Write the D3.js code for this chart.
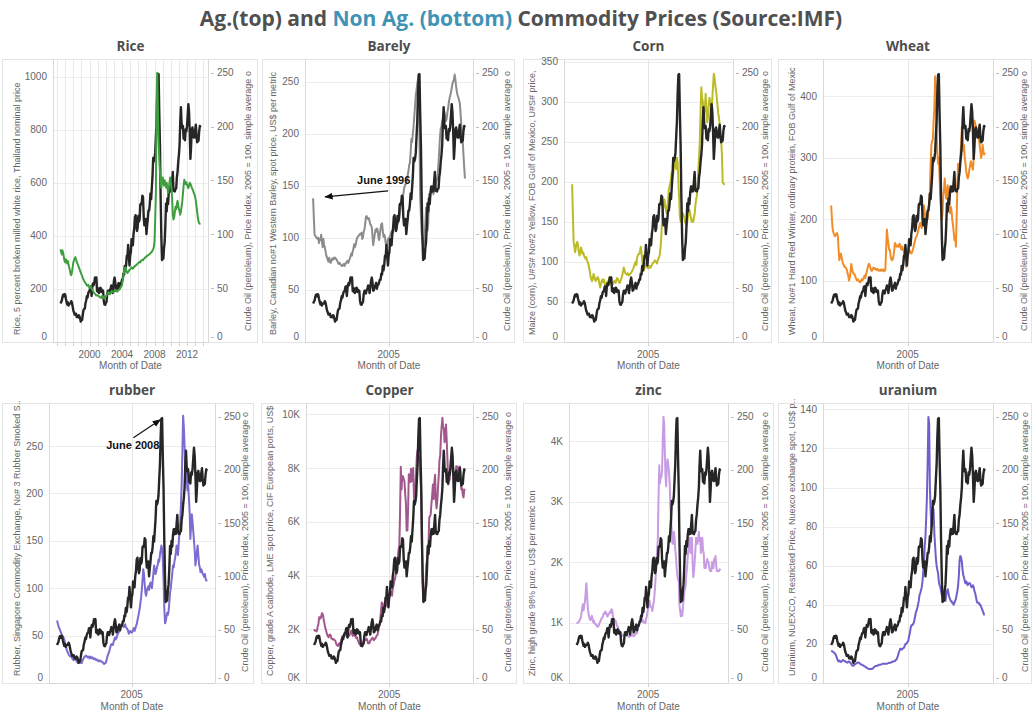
<!DOCTYPE html>
<html>
<head>
<meta charset="utf-8">
<script src="https://cdn.jsdelivr.net/npm/d3@7"></script>
<style>
  body { margin: 0; background: #fff; }
  svg { display: block; }
  text { white-space: pre; }
</style>
</head>
<body>
<svg id="chart" width="1032" height="717"></svg>
<script>
// Monthly observations, June 1996 through September 2013 (208 months)
const firstMonth = new Date(1996, 5, 1);

// Crude Oil (petroleum), price index, 2005 = 100
const crudeOil = [
  35.7, 37.1, 38.6, 42.0, 43.9, 42.4, 44.4,                                   // 1996 Jun-Dec
  44.0, 40.1, 37.3, 34.9, 36.7, 33.9, 35.2, 35.6, 35.8, 37.9, 36.4, 32.8,     // 1997
  29.2, 27.4, 25.5, 26.1, 26.2, 23.2, 23.6, 22.9, 24.9, 24.2, 21.7, 18.9,     // 1998
  21.4, 20.6, 25.3, 29.6, 30.6, 30.9, 36.0, 38.6, 42.4, 41.2, 45.0, 46.9,     // 1999
  47.2, 51.2, 51.7, 42.7, 50.6, 54.4, 52.7, 55.3, 60.0, 58.3, 60.0, 47.4,     // 2000
  46.7, 49.7, 45.5, 46.7, 50.4, 49.7, 46.5, 48.0, 47.6, 38.1, 34.9, 34.5,     // 2001
  36.2, 37.3, 44.2, 47.6, 47.6, 45.0, 48.0, 49.3, 52.5, 51.4, 45.5, 50.8,     // 2002
  56.8, 59.8, 55.5, 47.6, 48.2, 51.4, 53.0, 54.9, 49.5, 53.2, 53.4, 55.3,     // 2003
  58.1, 57.9, 63.4, 62.6, 70.5, 66.5, 71.6, 80.0, 79.5, 90.2, 79.7, 71.0,     // 2004
  80.4, 83.6, 95.4, 94.8, 89.8, 100.5, 105.3, 116.0, 117.7, 109.7, 103.1, 105.9, // 2005
  117.1, 111.9, 114.2, 127.5, 128.6, 128.0, 135.9, 134.6, 116.0, 108.3, 108.5, 114.2, // 2006
  100.1, 108.0, 113.6, 122.0, 122.0, 127.8, 137.8, 132.7, 143.6, 154.1, 170.8, 167.6, // 2007
  170.2, 175.8, 190.4, 204.5, 230.2, 248.0, 248.7, 212.2, 182.0, 134.2, 98.4, 76.1,   // 2008
  77.4, 77.4, 87.0, 92.8, 108.0, 128.6, 121.1, 133.3, 128.0, 138.9, 144.3, 139.6,     // 2009
  144.5, 140.0, 148.6, 157.8, 141.7, 140.0, 139.8, 142.1, 142.6, 153.1, 158.0, 167.2, // 2010
  173.8, 183.5, 203.7, 218.0, 202.6, 198.5, 200.7, 188.8, 188.9, 187.3, 197.6, 195.5, // 2011
  200.7, 211.2, 220.8, 213.1, 194.9, 170.0, 181.4, 197.4, 199.2, 193.8, 189.7, 189.7, // 2012
  197.0, 201.7, 192.1, 185.4, 186.3, 186.9, 195.9, 200.6, 199.3                        // 2013 Jan-Sep
];

// Rice, 5% broken milled white, Thailand
const rice = [
  350, 340, 330, 345, 335, 320, 305,
  300, 312, 302, 296, 305, 290, 280, 268, 255, 252, 265, 282,
  300, 308, 315, 320, 312, 302, 296, 290, 282, 276, 268, 262,
  255, 250, 242, 236, 230, 226, 222, 218, 214, 212, 216, 208,
  204, 206, 210, 202, 196, 192, 188, 184, 182, 178, 175, 176,
  176, 174, 172, 170, 168, 166, 170, 174, 170, 166, 164, 168,
  172, 176, 180, 184, 188, 184, 180, 184, 188, 192, 190, 188,
  188, 192, 194, 196, 192, 190, 194, 196, 198, 202, 206, 210,
  216, 232, 250, 266, 276, 282, 272, 264, 260, 264, 268, 272,
  274, 278, 282, 280, 276, 280, 284, 286, 288, 290, 292, 296,
  298, 300, 302, 300, 306, 308, 310, 308, 312, 315, 318, 320,
  322, 325, 326, 328, 330, 332, 335, 338, 340, 345, 350, 358,
  380, 470, 560, 900, 1015, 880, 760, 690, 640, 600, 580, 610,
  620, 602, 590, 610, 596, 582, 600, 580, 562, 576, 600, 620,
  600, 580, 540, 482, 462, 470, 490, 510, 500, 520, 532, 512,
  502, 490, 480, 492, 510, 530, 560, 590, 612, 600, 596, 602,
  592, 586, 580, 590, 600, 596, 590, 582, 576, 570, 562, 556,
  546, 532, 512, 490, 470, 455, 448, 446, 447
];

// Barley, Canadian no.1 Western
const barley = [
  138, 120, 103, 102, 101, 100, 99,
  100, 95, 99, 98, 103, 97, 91, 99, 93, 91, 87, 83,
  81, 79, 77, 81, 78, 76, 78, 80, 79, 81, 80, 81,
  80, 79, 78, 76, 75, 76, 75, 74, 73, 73, 74, 75,
  73, 75, 76, 77, 78, 76, 78, 80, 82, 85, 83, 87,
  90, 94, 91, 93, 97, 100, 101, 102, 103, 104, 103, 105,
  99, 101, 106, 108, 113, 120, 121, 119, 118, 119, 116, 113,
  112, 110, 102, 93, 98, 103, 108, 106, 109, 108, 101, 98,
  103, 109, 113, 114, 107, 101, 103, 101, 95, 91, 93, 98,
  100, 100, 102, 104, 106, 107, 105, 108, 110, 112, 113, 114,
  113, 115, 117, 122, 127, 133, 132, 137, 142, 147, 150, 152,
  152, 157, 160, 164, 170, 172, 182, 195, 192, 200, 207, 217,
  227, 237, 242, 248, 252, 257, 200, 140, 120, 105, 98, 93,
  93, 102, 112, 129, 120, 107, 114, 142, 137, 142, 144, 146,
  146, 142, 145, 148, 152, 154, 157, 162, 172, 184, 197, 205,
  207, 212, 214, 217, 221, 217, 212, 214, 220, 224, 230, 234,
  237, 240, 244, 248, 250, 252, 257, 252, 245, 240, 237, 235,
  232, 229, 220, 209, 200, 193, 180, 168, 157
];

// Maize (corn), U.S. No.2 Yellow, FOB Gulf of Mexico
const corn = [
  197, 160, 125, 119, 112, 118, 123,
  125, 120, 112, 108, 112, 118, 115, 110, 112, 108, 106, 104,
  106, 102, 100, 97, 93, 88, 81, 78, 76, 80, 85, 82,
  78, 76, 78, 80, 81, 78, 72, 68, 72, 76, 78, 75,
  78, 74, 70, 72, 74, 76, 76, 78, 81, 78, 72, 74,
  72, 74, 76, 75, 74, 78, 80, 78, 76, 74, 74, 78,
  80, 84, 88, 93, 90, 86, 85, 84, 86, 85, 83, 85,
  85, 87, 88, 90, 92, 95, 98, 100, 96, 105, 108, 110,
  110, 114, 119, 112, 102, 95, 89, 92, 96, 98, 95, 93,
  92, 93, 95, 93, 94, 96, 98, 99, 100, 102, 101, 100,
  98, 102, 104, 106, 110, 120, 135, 153, 165, 170, 178, 172,
  165, 161, 168, 175, 190, 195, 198, 205, 212, 205, 210, 218,
  225, 222, 216, 230, 225, 200, 180, 157, 150, 155, 160, 161,
  158, 155, 150, 148, 146, 150, 156, 162, 165, 160, 155, 150,
  153, 150, 155, 160, 170, 178, 182, 195, 215, 230, 250, 285,
  318, 305, 301, 290, 284, 295, 310, 290, 274, 280, 295, 305,
  300, 295, 290, 305, 320, 335, 330, 320, 314, 305, 295, 285,
  280, 270, 255, 250, 235, 199, 198, 197, 197
];

// Wheat, No.1 Hard Red Winter, FOB Gulf of Mexico
const wheat = [
  222, 200, 183, 178, 175, 172, 174,
  176, 177, 172, 150, 133, 140, 144, 138, 132, 127, 125, 122,
  122, 120, 118, 112, 108, 100, 104, 112, 127, 120, 115, 111,
  111, 108, 105, 102, 100, 102, 100, 98, 97, 99, 102, 100,
  102, 105, 108, 104, 110, 115, 120, 125, 127, 124, 120, 116,
  116, 119, 121, 119, 120, 118, 117, 119, 118, 116, 117, 116,
  118, 116, 117, 118, 115, 116, 118, 150, 183, 170, 160, 150,
  150, 140, 135, 133, 135, 140, 150, 161, 158, 155, 157, 155,
  155, 160, 158, 152, 150, 155, 150, 148, 140, 133, 122, 130,
  140, 155, 150, 148, 145, 144, 146, 150, 155, 160, 165, 170,
  172, 175, 180, 185, 190, 194, 190, 185, 200, 215, 222, 210,
  199, 205, 210, 200, 215, 225, 245, 288, 320, 327, 330, 360,
  380, 432, 415, 343, 310, 290, 300, 270, 233, 215, 199, 210,
  240, 250, 266, 245, 233, 240, 255, 240, 225, 210, 220, 215,
  200, 190, 180, 166, 172, 155, 200, 255, 290, 285, 280, 300,
  320, 349, 330, 310, 320, 299, 290, 277, 270, 266, 270, 280,
  285, 294, 290, 285, 280, 300, 360, 355, 350, 345, 340, 338,
  330, 320, 310, 299, 305, 321, 310, 305, 308
];

// Rubber, Singapore Commodity Exchange, No.3 Rubber Smoked Sheets
const rubber = [
  66, 63, 60, 58, 56, 54, 52,
  50, 49, 48, 46, 43, 40, 36, 34, 32, 30, 29, 28,
  29, 28, 26, 25, 24, 25, 26, 24, 23, 22, 21, 22,
  23, 22, 21, 21, 23, 25, 26, 28, 28, 29, 28, 27,
  28, 27, 26, 28, 27, 26, 27, 26, 25, 26, 25, 24,
  25, 24, 23, 23, 24, 23, 23, 22, 22, 21, 20, 21,
  21, 23, 26, 29, 31, 33, 36, 39, 41, 40, 40, 43,
  46, 48, 46, 47, 50, 52, 53, 55, 56, 58, 62, 60,
  61, 59, 60, 62, 59, 58, 57, 55, 52, 53, 55, 54,
  53, 54, 56, 58, 55, 57, 60, 62, 66, 70, 74, 78,
  84, 90, 98, 108, 120, 115, 105, 95, 92, 98, 100, 102,
  98, 104, 106, 102, 100, 108, 115, 124, 120, 115, 118, 122,
  125, 130, 128, 135, 140, 145, 142, 130, 109, 80, 63, 65,
  70, 74, 72, 76, 85, 95, 100, 108, 115, 124, 122, 128,
  132, 138, 145, 140, 135, 148, 160, 170, 188, 210, 245, 282,
  270, 250, 224, 230, 215, 203, 210, 195, 180, 152, 165, 178,
  170, 160, 150, 140, 124, 130, 138, 145, 135, 125, 122, 117,
  120, 118, 115, 114, 112, 115, 110, 108, 109
];

// Copper, grade A cathode, LME spot
const copper = [
  2000, 1950, 1950, 1920, 1950, 2100, 2200,
  2450, 2450, 2400, 2500, 2600, 2550, 2400, 2250, 2100, 2000, 1900, 1800,
  1740, 1700, 1780, 1800, 1760, 1650, 1650, 1620, 1630, 1600, 1580, 1500,
  1420, 1400, 1380, 1450, 1480, 1420, 1580, 1650, 1750, 1730, 1750, 1770,
  1850, 1800, 1730, 1700, 1800, 1750, 1800, 1850, 1950, 1880, 1750, 1850,
  1780, 1780, 1720, 1670, 1700, 1600, 1530, 1460, 1430, 1380, 1420, 1480,
  1500, 1560, 1600, 1600, 1600, 1650, 1600, 1480, 1480, 1480, 1580, 1600,
  1650, 1680, 1660, 1590, 1650, 1650, 1710, 1760, 1790, 1920, 2060, 2200,
  2420, 2760, 3000, 2950, 2740, 2690, 2800, 2850, 2860, 3010, 3100, 3140,
  3170, 3250, 3380, 3390, 3250, 3530, 3620, 3800, 3860, 4060, 4270, 4580,
  4730, 4980, 5100, 6380, 8050, 7200, 7700, 7690, 7600, 7500, 7030, 6680,
  5670, 5690, 6450, 7770, 7650, 7480, 7970, 7510, 7650, 8000, 6970, 6640,
  7060, 7890, 8440, 8680, 8380, 8260, 8410, 7630, 6990, 4890, 3720, 3070,
  3220, 3310, 3750, 4410, 4570, 5010, 5200, 6170, 6200, 6290, 6680, 6980,
  7390, 6850, 7460, 7750, 6840, 6500, 6740, 7280, 7710, 8290, 8470, 9150,
  9550, 9870, 9530, 9480, 8960, 9060, 9620, 9000, 8300, 7390, 7580, 7560,
  8040, 8440, 8470, 8250, 7950, 7420, 7590, 7510, 8070, 8060, 7710, 8000,
  8050, 8060, 7650, 7200, 7250, 7000, 6900, 7200, 7160
];

// Zinc, high grade 98% pure
const zinc = [
  1000, 990, 1000, 1010, 1030, 1060, 1080,
  1160, 1250, 1300, 1200, 1290, 1350, 1500, 1650, 1450, 1250, 1150, 1090,
  1050, 1040, 1080, 1110, 1050, 1000, 1030, 980, 980, 960, 940, 950,
  930, 960, 1000, 1010, 1050, 1070, 1080, 1110, 1150, 1140, 1180, 1170,
  1150, 1100, 1110, 1140, 1150, 1180, 1160, 1220, 1210, 1130, 1040, 1060,
  1030, 1030, 1000, 940, 940, 900, 860, 830, 820, 800, 780, 780,
  790, 800, 840, 820, 790, 790, 800, 780, 760, 760, 780, 780,
  780, 790, 800, 770, 780, 800, 820, 830, 820, 900, 940, 1000,
  1030, 1100, 1100, 1060, 1050, 1000, 1010, 1000, 990, 1060, 1100, 1180,
  1240, 1340, 1360, 1280, 1250, 1250, 1190, 1280, 1330, 1440, 1610, 1800,
  2020, 2200, 2400, 3100, 3600, 3300, 3400, 3400, 3500, 4000, 4400, 4300,
  3800, 3400, 3250, 3600, 3700, 3600, 3500, 3300, 2900, 2700, 2500, 2300,
  2300, 2500, 2400, 2200, 2100, 1900, 1800, 1700, 1700, 1300, 1200, 1100,
  1200, 1110, 1230, 1380, 1480, 1560, 1600, 1800, 1900, 2100, 2200, 2400,
  2400, 2150, 2300, 2400, 2000, 1750, 1850, 2000, 2200, 2400, 2300, 2300,
  2400, 2500, 2350, 2400, 2150, 2250, 2400, 2200, 2150, 1900, 1900, 1900,
  2000, 2050, 2000, 2000, 1900, 1850, 1850, 1850, 2000, 1900, 1900, 2050,
  2050, 2100, 1950, 1850, 1850, 1850, 1850, 1880, 1860
];

// Uranium, NUEXCO restricted price
const uranium = [
  16.5, 16.3, 16.0, 15.8, 15.5, 15.0, 14.5,
  13.5, 12.5, 11.5, 11.0, 11.5, 11.0, 10.8, 11.0, 11.5, 11.8, 11.5, 11.3,
  11.0, 10.8, 10.5, 10.5, 10.8, 11.0, 10.6, 10.3, 9.8, 9.0, 9.0, 8.8,
  9.3, 9.5, 9.8, 10.0, 10.3, 10.5, 10.5, 10.2, 9.8, 9.6, 9.3, 9.2,
  9.0, 8.8, 8.5, 8.3, 8.0, 7.8, 7.5, 7.3, 7.1, 7.1, 7.2, 7.2,
  7.3, 7.4, 7.8, 8.3, 8.5, 8.7, 8.7, 8.8, 9.0, 9.3, 9.3, 9.3,
  9.4, 9.6, 9.8, 9.8, 9.8, 9.8, 9.9, 9.9, 9.9, 10.0, 10.2, 10.2,
  10.4, 10.5, 10.5, 10.8, 11.0, 11.0, 11.2, 11.3, 11.8, 12.0, 13.0, 14.0,
  15.5, 16.5, 17.5, 17.5, 17.0, 17.5, 17.8, 18.0, 19.0, 20.0, 20.0, 20.5,
  21.0, 21.8, 24.0, 25.5, 28.0, 29.5, 29.5, 30.0, 30.5, 32.0, 34.0, 36.0,
  37.0, 38.5, 40.0, 42.0, 45.0, 46.0, 47.5, 49.0, 52.0, 57.0, 61.0, 70.0,
  75, 85, 95, 113, 136, 133, 100, 88, 80, 86, 90, 88,
  76, 70, 64, 60, 58, 56, 52, 50, 49, 47, 45, 44,
  43, 44, 43, 42, 45, 47, 48, 46, 44, 43, 42, 42,
  41, 41, 40, 41, 42, 43, 45, 47, 50, 55, 63, 65,
  64, 62, 58, 55, 54, 52, 51, 52, 51, 50, 51, 51,
  51, 50, 49, 49, 50, 49, 47, 46, 44, 42, 41, 41,
  41, 40, 40, 39, 38, 37, 36, 35, 35
];

// Axis tick values
const crudeTicks = [0, 50, 100, 150, 200, 250];
const riceTicks = [0, 200, 400, 600, 800, 1000];
const barleyTicks = [0, 50, 100, 150, 200, 250];
const cornTicks = [0, 50, 100, 150, 200, 250, 300, 350];
const wheatTicks = [0, 100, 200, 300, 400];
const rubberTicks = [0, 50, 100, 150, 200, 250];
const copperTicks = [0, 2000, 4000, 6000, 8000, 10000];
const zincTicks = [0, 1000, 2000, 3000, 4000];
const uraniumTicks = [0, 20, 40, 60, 80, 100, 120, 140];
const riceYearLabels = [2000, 2004, 2008, 2012];
const midYearLabels = [2005];

const crudeTitle = "Crude Oil (petroleum), Price index, 2005 = 100, simple average o";

const months = crudeOil.map((_, i) => d3.timeMonth.offset(firstMonth, i));
const xDomain = [d3.timeMonth.offset(firstMonth, -11), d3.timeMonth.offset(firstMonth, 218)];

// Two rows of panes: top edge, zero line, and where 250 sits on the crude-oil axis
const rows = [
  { top: 59, zero: 342, crudeTop: 72.7, titleY: 51, yearY: 357.5, axisTitleY: 369 },
  { top: 403, zero: 683, crudeTop: 416.7, titleY: 395, yearY: 698, axisTitleY: 709.5 }
];

const kFmt = v => (v / 1000) + "K";
const plain = v => String(v);

const panels = [
  { name: "Rice", values: rice, color: "#3f9f3f", ticks: riceTicks, fmt: plain, topY: 76.7,
    row: 0, left: 53, right: 208, cell: [2, 257], ltx: 17, rtx: 248, yearly: true, seriesOnTop: true,
    leftTitle: "Rice, 5 percent broken milled white rice, Thailand nominal price" },
  { name: "Barely", values: barley, color: "#8c8c8c", ticks: barleyTicks, fmt: plain, topY: 81.7,
    row: 0, left: 305, right: 473, cell: [262, 514], ltx: 273, rtx: 507,
    leftTitle: "Barley, Canadian no#1 Western Barley, spot price, US$ per metric" },
  { name: "Corn", values: corn, color: "#bcbb26", ticks: cornTicks, fmt: plain, topY: 61.7,
    row: 0, left: 564, right: 733, cell: [523, 771], ltx: 532, rtx: 765,
    leftTitle: "Maize (corn), U#S# No#2 Yellow, FOB Gulf of Mexico, U#S# price," },
  { name: "Wheat", values: wheat, color: "#f28c28", ticks: wheatTicks, fmt: plain, topY: 96,
    row: 0, left: 823, right: 993, cell: [778, 1031], ltx: 792, rtx: 1024,
    leftTitle: "Wheat, No#1 Hard Red Winter, ordinary protein, FOB Gulf of Mexic" },
  { name: "rubber", values: rubber, color: "#7b6cd0", ticks: rubberTicks, fmt: plain, topY: 446,
    row: 1, left: 49, right: 215, cell: [2, 253], ltx: 17, rtx: 245,
    leftTitle: "Rubber, Singapore Commodity Exchange, No# 3 Rubber Smoked S.." },
  { name: "Copper", values: copper, color: "#a2578d", ticks: copperTicks, fmt: kFmt, topY: 414.3,
    row: 1, left: 306, right: 473, cell: [261, 516], ltx: 270, rtx: 508,
    leftTitle: "Copper, grade A cathode, LME spot price, CIF European ports, US$" },
  { name: "zinc", values: zinc, color: "#c79ce3", ticks: zincTicks, fmt: kFmt, topY: 441,
    row: 1, left: 569, right: 728, cell: [523, 773], ltx: 532, rtx: 765,
    leftTitle: "Zinc, high grade 98% pure, US$ per metric ton" },
  { name: "uranium", values: uranium, color: "#6d60cc", ticks: uraniumTicks, fmt: plain, topY: 409.3,
    row: 1, left: 823, right: 993, cell: [778, 1031], ltx: 792, rtx: 1025,
    leftTitle: "Uranium, NUEXCO, Restricted Price, Nuexco exchange spot, US$ p.." }
];

const svg = d3.select("#chart");
svg.append("rect").attr("width", 1032).attr("height", 717).attr("fill", "#ffffff");

const defs = svg.append("defs");
defs.append("marker").attr("id", "arrowHead")
  .attr("viewBox", "0 0 10 10").attr("refX", 9).attr("refY", 5)
  .attr("markerWidth", 7).attr("markerHeight", 7).attr("orient", "auto")
  .append("path").attr("d", "M0,1 L10,5 L0,9 Z").attr("fill", "#111");

// Page title
const title = svg.append("text")
  .attr("x", 521).attr("y", 26).attr("text-anchor", "middle")
  .style("font-family", "'Open Sans', sans-serif").style("font-weight", 700)
  .style("font-size", "21px").attr("fill", "#505050");
title.append("tspan").text("Ag.(top) and ");
title.append("tspan").attr("fill", "#3f93b5").text("Non Ag. (bottom)");
title.append("tspan").text(" Commodity Prices (Source:IMF)");

const tickFont = "'Liberation Sans', Arial, sans-serif";

panels.forEach(p => {
  const row = rows[p.row];
  const g = svg.append("g");
  const x = d3.scaleTime().domain(xDomain).range([p.left, p.right]);
  const yL = d3.scaleLinear().domain([0, p.ticks[p.ticks.length - 1]]).range([row.zero, p.topY]);
  const yR = d3.scaleLinear().domain([0, 250]).range([row.zero, row.crudeTop]);

  // pane outline
  g.append("rect")
    .attr("x", p.cell[0] + 0.5).attr("y", row.top + 0.5)
    .attr("width", p.cell[1] - p.cell[0]).attr("height", row.zero - row.top)
    .attr("fill", "none").attr("stroke", "#e4e4e4");

  // horizontal gridlines on the commodity axis
  g.selectAll("line.hgrid").data(p.ticks.filter(t => t > 0)).join("line")
    .attr("class", "hgrid")
    .attr("x1", p.left).attr("x2", p.right)
    .attr("y1", d => Math.round(yL(d)) + 0.5).attr("y2", d => Math.round(yL(d)) + 0.5)
    .attr("stroke", "#ececec");

  // vertical gridlines
  const gridDates = p.yearly
    ? d3.timeYear.range(d3.timeYear.ceil(xDomain[0]), xDomain[1])
    : midYearLabels.map(y => new Date(y, 0, 1));
  g.selectAll("line.vgrid").data(gridDates).join("line")
    .attr("class", "vgrid")
    .attr("x1", d => Math.round(x(d)) + 0.5).attr("x2", d => Math.round(x(d)) + 0.5)
    .attr("y1", row.top).attr("y2", row.zero)
    .attr("stroke", p.yearly ? "#e9e9e9" : "#e6e6e6");

  // x tick marks below the baseline
  g.selectAll("line.xtick").data(gridDates).join("line")
    .attr("class", "xtick")
    .attr("x1", d => Math.round(x(d)) + 0.5).attr("x2", d => Math.round(x(d)) + 0.5)
    .attr("y1", row.zero).attr("y2", row.zero + 4)
    .attr("stroke", "#cfcfcf");

  // axis lines
  g.append("line").attr("x1", p.left).attr("x2", p.right)
    .attr("y1", row.zero + 0.5).attr("y2", row.zero + 0.5).attr("stroke", "#d6d6d6");
  g.append("line").attr("x1", p.left + 0.5).attr("x2", p.left + 0.5)
    .attr("y1", row.top).attr("y2", row.zero).attr("stroke", "#d9d9d9");
  g.append("line").attr("x1", p.right + 0.5).attr("x2", p.right + 0.5)
    .attr("y1", row.top).attr("y2", row.zero).attr("stroke", "#d9d9d9");

  // left tick labels
  g.selectAll("text.lt").data(p.ticks).join("text")
    .attr("class", "lt")
    .attr("x", p.left - 6)
    .attr("y", d => yL(d) + (d === 0 ? -2 : 3.5))
    .attr("text-anchor", "end")
    .style("font-family", tickFont).style("font-size", "10px").attr("fill", "#666")
    .text(p.fmt);

  // right (crude oil) ticks and labels
  g.selectAll("line.rt").data(crudeTicks).join("line")
    .attr("class", "rt")
    .attr("x1", p.right + 3).attr("x2", p.right + 6)
    .attr("y1", d => Math.round(yR(d) + (d === 0 ? -5 : 0)) + 0.5)
    .attr("y2", d => Math.round(yR(d) + (d === 0 ? -5 : 0)) + 0.5)
    .attr("stroke", "#bbb");
  g.selectAll("text.rt").data(crudeTicks).join("text")
    .attr("class", "rt")
    .attr("x", p.right + 9)
    .attr("y", d => yR(d) + (d === 0 ? -2 : 3.5))
    .style("font-family", tickFont).style("font-size", "10px").attr("fill", "#666")
    .text(d => d);

  // x labels
  const yearLabels = p.yearly ? riceYearLabels : midYearLabels;
  g.selectAll("text.xl").data(yearLabels).join("text")
    .attr("class", "xl")
    .attr("x", d => x(new Date(d, 0, 1)))
    .attr("y", row.yearY)
    .attr("text-anchor", "middle")
    .style("font-family", tickFont).style("font-size", "10px").attr("fill", "#666")
    .text(d => d);
  g.append("text")
    .attr("x", (p.left + p.right) / 2).attr("y", row.axisTitleY)
    .attr("text-anchor", "middle")
    .style("font-family", tickFont).style("font-size", "10px").attr("fill", "#666")
    .text("Month of Date");

  // axis titles (rotated)
  g.append("text")
    .attr("transform", `translate(${p.ltx},${row.zero - 7}) rotate(-90)`)
    .attr("dominant-baseline", "central")
    .style("font-family", tickFont).style("font-size", "9px").attr("fill", "#666")
    .text(p.leftTitle);
  g.append("text")
    .attr("transform", `translate(${p.rtx},${row.zero - 11}) rotate(-90)`)
    .attr("dominant-baseline", "central")
    .style("font-family", tickFont).style("font-size", "9px").attr("fill", "#666")
    .text(crudeTitle);

  // pane title
  g.append("text")
    .attr("x", (p.left + p.right) / 2).attr("y", row.titleY)
    .attr("text-anchor", "middle")
    .style("font-family", "'Open Sans', sans-serif").style("font-weight", 700)
    .style("font-size", "13.5px").attr("fill", "#4d4d4d")
    .text(p.name);

  // lines
  const commodityLine = d3.line().x((d, i) => x(months[i])).y(d => yL(d));
  const crudeLine = d3.line().x((d, i) => x(months[i])).y(d => yR(d));

  const drawCrude = () => g.append("path").datum(crudeOil)
    .attr("d", crudeLine).attr("fill", "none")
    .attr("stroke", "#262626").attr("stroke-width", 2.4).attr("stroke-linejoin", "round");
  const drawCommodity = () => g.append("path").datum(p.values)
    .attr("d", commodityLine).attr("fill", "none")
    .attr("stroke", p.color).attr("stroke-width", 2).attr("stroke-linejoin", "round");

  if (p.seriesOnTop) { drawCrude(); drawCommodity(); }
  else { drawCommodity(); drawCrude(); }

  p.x = x; p.yL = yL; p.yR = yR; p.g = g;
});

// Annotation: first barley observation
{
  const p = panels[1];
  const tipX = p.x(months[0]) + 12;
  const tipY = p.yL(barley[0]) - 1.5;
  p.g.append("line")
    .attr("x1", tipX + 63).attr("y1", tipY - 6)
    .attr("x2", tipX).attr("y2", tipY)
    .attr("stroke", "#111").attr("stroke-width", 1.2)
    .attr("marker-end", "url(#arrowHead)");
  p.g.append("text")
    .attr("x", tipX + 32).attr("y", tipY - 13)
    .style("font-family", tickFont).style("font-weight", 700).style("font-size", "11px")
    .attr("fill", "#111")
    .text("June 1996");
}

// Annotation: crude oil peak in the rubber pane
{
  const p = panels[4];
  const peak = months.findIndex(m => m.getFullYear() === 2008 && m.getMonth() === 5);
  const tipX = p.x(months[peak]);
  const tipY = p.yR(crudeOil[peak]);
  p.g.append("line")
    .attr("x1", tipX - 28).attr("y1", tipY + 19)
    .attr("x2", tipX - 1).attr("y2", tipY + 1)
    .attr("stroke", "#111").attr("stroke-width", 1.2)
    .attr("marker-end", "url(#arrowHead)");
  p.g.append("text")
    .attr("x", tipX - 2).attr("y", tipY + 30)
    .attr("text-anchor", "end")
    .style("font-family", tickFont).style("font-weight", 700).style("font-size", "11px")
    .attr("fill", "#111")
    .text("June 2008");
}
</script>
</body>
</html>
